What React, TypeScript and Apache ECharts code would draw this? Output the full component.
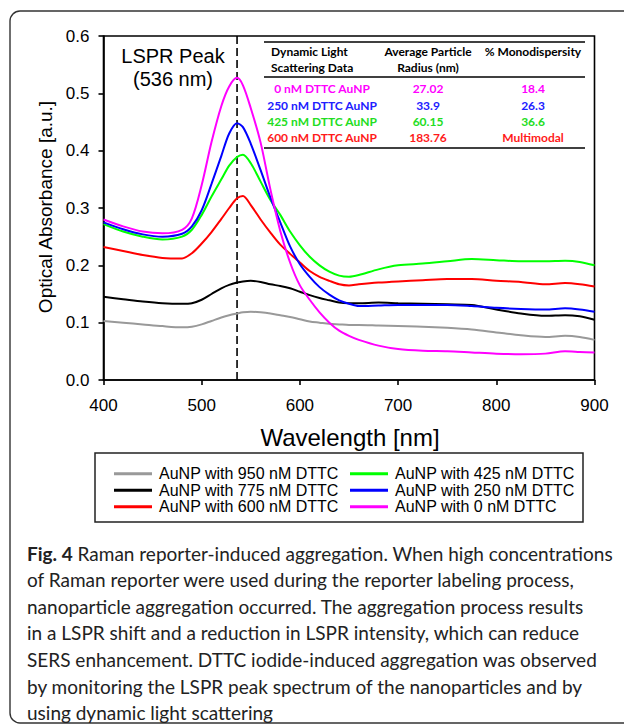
import React, { useEffect, useRef } from "react";
import * as echarts from "echarts";

const wavelengths = [400, 420, 440, 460, 480, 490, 500, 510, 520, 528, 536, 542, 550, 560, 570, 580, 590, 600, 610, 620, 630, 640, 650, 660, 680, 700, 725, 750, 775, 800, 825, 850, 870, 885, 900];

const dttc950 = [0.103, 0.100, 0.097, 0.094, 0.092, 0.093, 0.097, 0.103, 0.109, 0.113, 0.116, 0.118, 0.119, 0.118, 0.116, 0.113, 0.110, 0.106, 0.102, 0.100, 0.098, 0.097, 0.096, 0.096, 0.095, 0.094, 0.093, 0.091, 0.088, 0.083, 0.078, 0.075, 0.077, 0.075, 0.070];
const dttc775 = [0.145, 0.141, 0.137, 0.134, 0.133, 0.134, 0.140, 0.150, 0.160, 0.166, 0.170, 0.172, 0.173, 0.171, 0.167, 0.164, 0.160, 0.154, 0.148, 0.143, 0.139, 0.135, 0.134, 0.134, 0.135, 0.134, 0.133, 0.132, 0.131, 0.123, 0.116, 0.112, 0.113, 0.111, 0.105];
const dttc600 = [0.232, 0.225, 0.218, 0.213, 0.212, 0.221, 0.238, 0.258, 0.281, 0.300, 0.317, 0.321, 0.305, 0.280, 0.257, 0.236, 0.220, 0.205, 0.190, 0.180, 0.173, 0.167, 0.165, 0.167, 0.170, 0.172, 0.174, 0.176, 0.176, 0.173, 0.171, 0.167, 0.169, 0.167, 0.163];
const dttc425 = [0.272, 0.259, 0.250, 0.245, 0.250, 0.262, 0.288, 0.320, 0.350, 0.374, 0.389, 0.393, 0.378, 0.346, 0.314, 0.288, 0.259, 0.235, 0.215, 0.200, 0.189, 0.182, 0.180, 0.183, 0.193, 0.200, 0.203, 0.207, 0.211, 0.209, 0.207, 0.207, 0.208, 0.206, 0.200];
const dttc250 = [0.275, 0.263, 0.254, 0.250, 0.255, 0.268, 0.296, 0.342, 0.391, 0.430, 0.448, 0.441, 0.412, 0.366, 0.318, 0.275, 0.233, 0.202, 0.180, 0.162, 0.149, 0.139, 0.133, 0.129, 0.130, 0.131, 0.131, 0.131, 0.129, 0.126, 0.124, 0.123, 0.125, 0.123, 0.119];
const dttc0 = [0.280, 0.268, 0.259, 0.256, 0.262, 0.282, 0.340, 0.415, 0.478, 0.512, 0.527, 0.514, 0.474, 0.414, 0.332, 0.260, 0.205, 0.165, 0.140, 0.118, 0.100, 0.086, 0.077, 0.070, 0.060, 0.054, 0.051, 0.050, 0.048, 0.046, 0.045, 0.046, 0.050, 0.049, 0.048];

const seriesNames = [
  "AuNP with 950 nM DTTC",
  "AuNP with 775 nM DTTC",
  "AuNP with 600 nM DTTC",
  "AuNP with 425 nM DTTC",
  "AuNP with 250 nM DTTC",
  "AuNP with 0 nM DTTC",
];
const seriesColors = ["#999999", "#000000", "#ff0000", "#00ff00", "#0000ff", "#ff00ff"];
const seriesValues = [dttc950, dttc775, dttc600, dttc425, dttc250, dttc0];

const peakWavelength = 536;

const tableHeaders = [["Dynamic Light", "Scattering Data"], ["Average Particle", "Radius (nm)"], ["% Monodispersity"]];
const tableSamples = ["0 nM DTTC AuNP", "250 nM DTTC AuNP", "425 nM DTTC AuNP", "600 nM DTTC AuNP"];
const tableRadius = ["27.02", "33.9", "60.15", "183.76"];
const tableMono = ["18.4", "26.3", "36.6", "Multimodal"];
const tableColors = ["#ff00ff", "#2020ff", "#22dd22", "#ff1a1a"];

const captionBold = "Fig. 4";
const captionLines = [
  " Raman reporter-induced aggregation. When high concentrations",
  "of Raman reporter were used during the reporter labeling process,",
  "nanoparticle aggregation occurred. The aggregation process results",
  "in a LSPR shift and a reduction in LSPR intensity, which can reduce",
  "SERS enhancement. DTTC iodide-induced aggregation was observed",
  "by monitoring the LSPR peak spectrum of the nanoparticles and by",
  "using dynamic light scattering",
];

const AX = "Liberation Sans, Arial, sans-serif";
const CAP = "Lato, Open Sans, sans-serif";

export default function App() {
  const ref = useRef<HTMLDivElement>(null);
  useEffect(() => {
    document.body.style.margin = "0";
    const chart = echarts.init(ref.current!, undefined, { renderer: "svg" });

    const series: any[] = seriesNames.map((name, k) => ({
      name,
      type: "line",
      data: wavelengths.map((w, i) => [w, seriesValues[k][i]]),
      smooth: 0.3,
      symbol: "none",
      lineStyle: { color: seriesColors[k], width: 2 },
      itemStyle: { color: seriesColors[k] },
      z: 3 + k,
    }));
    series.push({
      name: "peak",
      type: "line",
      data: [[peakWavelength, 0], [peakWavelength, 0.6]],
      symbol: "none",
      silent: true,
      lineStyle: { color: "#000", width: 1.6, type: [8, 4] },
      z: 2,
    });

    const graphic: any[] = [];
    graphic.push({
      type: "rect",
      shape: { x: 10, y: 11, width: 640, height: 712, r: 10 },
      style: { fill: "none", stroke: "#333", lineWidth: 1.4 },
      silent: true,
    });
    graphic.push({
      type: "rect",
      shape: { x: 95, y: 453, width: 488, height: 69 },
      style: { fill: "none", stroke: "#222", lineWidth: 1.5 },
      silent: true,
    });
    [42, 77, 148].forEach((y) =>
      graphic.push({
        type: "line",
        shape: { x1: 264, y1: y, x2: 585, y2: y },
        style: { stroke: "#000", lineWidth: 1.6 },
        silent: true,
      })
    );
    const tFont = "bold 12px " + CAP;
    const txt = (x: number, y: number, text: string, fill: string, align: string) => ({
      type: "text",
      x,
      y,
      style: { text, font: tFont, fill, textAlign: align, textVerticalAlign: "middle" },
    });
    graphic.push(txt(271, 51, tableHeaders[0][0], "#000", "left"));
    graphic.push(txt(271, 67, tableHeaders[0][1], "#000", "left"));
    graphic.push(txt(428, 51, tableHeaders[1][0], "#000", "center"));
    graphic.push(txt(428, 67, tableHeaders[1][1], "#000", "center"));
    graphic.push(txt(533, 51, tableHeaders[2][0], "#000", "center"));
    const rowY = [88, 105, 121, 137];
    tableSamples.forEach((s, i) => {
      graphic.push(txt(322, rowY[i], s, tableColors[i], "center"));
      graphic.push(txt(428, rowY[i], tableRadius[i], tableColors[i], "center"));
      graphic.push(txt(533, rowY[i], tableMono[i], tableColors[i], "center"));
    });
    graphic.push({ type: "text", x: 173, y: 56, style: { text: "LSPR Peak", font: "20px " + AX, fill: "#000", textAlign: "center", textVerticalAlign: "middle" } });
    graphic.push({ type: "text", x: 173, y: 79, style: { text: "(536 nm)", font: "20px " + AX, fill: "#000", textAlign: "center", textVerticalAlign: "middle" } });
    graphic.push({ type: "text", x: 350, y: 437, style: { text: "Wavelength [nm]", font: "24px " + AX, fill: "#000", textAlign: "center", textVerticalAlign: "middle" } });
    graphic.push({ type: "text", x: 45, y: 207, rotation: Math.PI / 2, style: { text: "Optical Absorbance [a.u.]", font: "19px " + AX, fill: "#000", textAlign: "center", textVerticalAlign: "middle" } });

    const capY0 = 553;
    const capStep = 26.6;
    const capFont = "19px " + CAP;
    graphic.push({
      type: "text",
      x: 27,
      y: capY0,
      style: {
        text: "{b|" + captionBold + "}{r|" + captionLines[0] + "}",
        rich: {
          b: { font: "bold 19px " + CAP, fill: "#222" },
          r: { font: capFont, fill: "#222" },
        },
        textAlign: "left",
        textVerticalAlign: "middle",
      },
    });
    captionLines.slice(1).forEach((line, i) => {
      graphic.push({
        type: "text",
        x: 27,
        y: capY0 + capStep * (i + 1),
        style: { text: line, font: capFont, fill: "#222", textAlign: "left", textVerticalAlign: "middle" },
      });
    });

    const legendCommon = {
      orient: "vertical",
      icon: "rect",
      itemWidth: 38,
      itemHeight: 3,
      itemGap: -1,
      textStyle: { fontFamily: AX, fontSize: 16, color: "#000", lineHeight: 17.5, padding: [0, 0, 0, 2] },
    };

    chart.setOption({
      animation: false,
      backgroundColor: "#fff",
      grid: {
        left: 103.5,
        right: 29.5,
        top: 36,
        bottom: 347,
        show: true,
        borderColor: "#000",
        borderWidth: 1.6,
        backgroundColor: "transparent",
      },
      xAxis: {
        type: "value",
        min: 400,
        max: 900,
        interval: 100,
        axisLine: { show: true, lineStyle: { color: "#000", width: 1.6 } },
        axisTick: { show: true, inside: false, length: 5, lineStyle: { color: "#000", width: 1.6 } },
        axisLabel: { fontFamily: AX, fontSize: 17, color: "#000", margin: 17 },
        splitLine: { show: false },
      },
      yAxis: {
        type: "value",
        min: 0,
        max: 0.6,
        interval: 0.1,
        axisLine: { show: true, lineStyle: { color: "#000", width: 1.6 } },
        axisTick: { show: true, inside: false, length: 5, lineStyle: { color: "#000", width: 1.6 } },
        axisLabel: { fontFamily: AX, fontSize: 17, color: "#000", margin: 14, formatter: (v: number) => v.toFixed(1) },
        splitLine: { show: false },
      },
      legend: [
        { ...legendCommon, left: 109, top: 460, data: seriesNames.slice(0, 3) },
        { ...legendCommon, left: 345, top: 460, data: seriesNames.slice(3, 6) },
      ],
      series,
      graphic,
    });
    return () => chart.dispose();
  }, []);
  return <div ref={ref} style={{ width: 624, height: 727 }} />;
}
